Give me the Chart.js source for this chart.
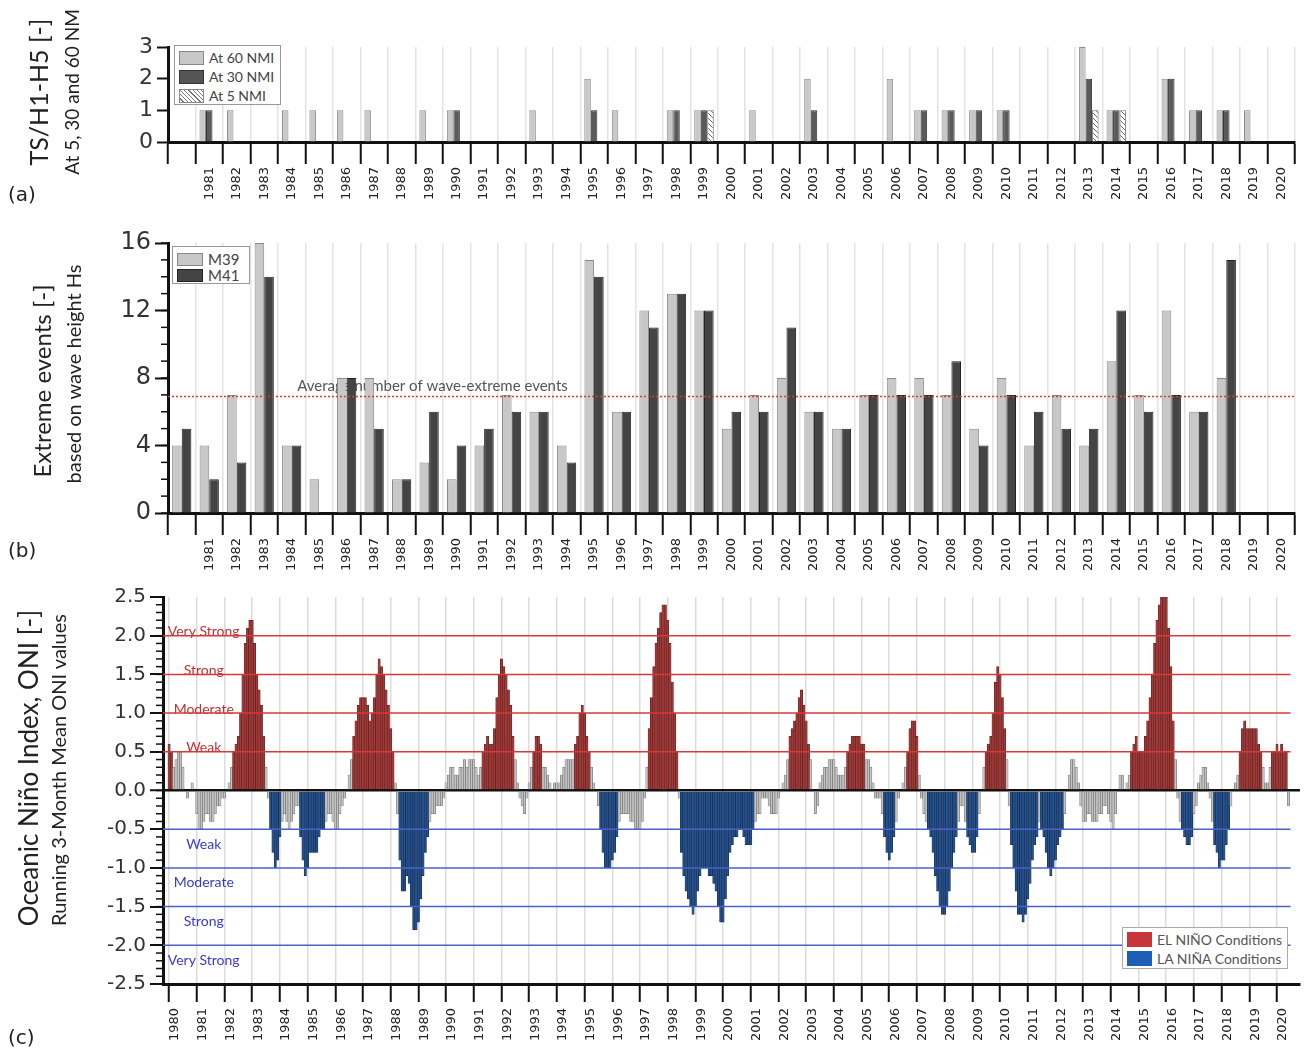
<!DOCTYPE html>
<html>
<head>
<meta charset="utf-8">
<script src="https://cdn.jsdelivr.net/npm/chart.js@4.4.1/dist/chart.umd.min.js"></script>
<style>
  body { margin: 0; background: #fff; width: 1307px; height: 1054px; position: relative; overflow: hidden; font-family: Lato, "Open Sans", sans-serif; color: #222; }
  canvas { position: absolute; left: 0; }
  .rot { position: absolute; white-space: nowrap; transform: translate(-50%, -50%) rotate(-90deg); line-height: 1; }
  .plabel { position: absolute; left: 8px; font-family: "DejaVu Sans", sans-serif; font-size: 20px; color: #222; }
  .legend { position: absolute; background: #fff; border: 1.5px solid #999; box-sizing: border-box; }
  .legend .row { position: absolute; left: 4px; display: flex; align-items: center; white-space: nowrap; color: #444; }
  .legend .sw { display: inline-block; box-sizing: border-box; margin-right: 5px; }
</style>
</head>
<body>

<canvas id="chartA" width="1307" height="212" style="top:0px"></canvas>
<canvas id="chartB" width="1307" height="360" style="top:212px"></canvas>
<canvas id="chartC" width="1307" height="482" style="top:572px"></canvas>

<div class="rot" style="left:38px; top:92px; font-size:25px;">TS/H1-H5 [-]</div>
<div class="rot" style="left:71px; top:92px; font-size:19px;">At 5, 30 and 60 NM</div>
<div class="plabel" style="top:182px;">(a)</div>

<div class="rot" style="left:42px; top:381px; font-size:24px;">Extreme events [-]</div>
<div class="rot" style="left:73px; top:374px; font-size:20px;">based on wave height Hs</div>
<div class="plabel" style="top:538px;">(b)</div>

<div class="rot" style="left:28px; top:768px; font-size:26px;">Oceanic Niño Index, ONI [-]</div>
<div class="rot" style="left:58px; top:770px; font-size:20px;">Running 3-Month Mean ONI values</div>
<div class="plabel" style="top:1025px;">(c)</div>

<div class="legend" style="left:174px; top:45px; width:107px; height:60px;">
  <div class="row" style="top:3px; font-size:14px;"><span class="sw" style="width:25px;height:14px;background:#c8c8c8;border:1px solid #888;"></span>At 60 NMI</div>
  <div class="row" style="top:22px; font-size:14px;"><span class="sw" style="width:25px;height:14px;background:#555;border:1px solid #333;"></span>At 30 NMI</div>
  <div class="row" style="top:41px; font-size:14px;"><span class="sw" style="width:25px;height:14px;border:1px solid #888;background:repeating-linear-gradient(45deg,#fff 0 2px,#777 2px 3px);"></span>At 5 NMI</div>
</div>

<div class="legend" style="left:172px; top:246px; width:78px; height:38px;">
  <div class="row" style="top:3px; font-size:15px;"><span class="sw" style="width:26px;height:13px;background:#c8c8c8;border:1px solid #888;"></span>M39</div>
  <div class="row" style="top:19px; font-size:15px;"><span class="sw" style="width:26px;height:13px;background:#444;border:1px solid #222;"></span>M41</div>
</div>

<div class="legend" style="left:1122px; top:927px; width:166px; height:42px; border:1px solid #aaa;">
  <div class="row" style="top:3px; font-size:14px; color:#555;"><span class="sw" style="width:25px;height:15px;background:#c8363a;"></span>EL NIÑO Conditions</div>
  <div class="row" style="top:22px; font-size:14px; color:#555;"><span class="sw" style="width:25px;height:15px;background:#1d5fb5;"></span>LA NIÑA Conditions</div>
</div>

<script>
// ---- data ----
const years = ["1980","1981","1982","1983","1984","1985","1986","1987","1988","1989",
               "1990","1991","1992","1993","1994","1995","1996","1997","1998","1999",
               "2000","2001","2002","2003","2004","2005","2006","2007","2008","2009",
               "2010","2011","2012","2013","2014","2015","2016","2017","2018","2019","2020"];

// (a) storms per year
const at60nmi = [0,1,1,0,1,1,1,1,0,1, 1,0,0,1,0,2,1,0,1,1, 0,1,0,2,0,0,2,1,1,1, 1,0,0,3,1,0,2,1,1,1, 0];
const at30nmi = [0,1,0,0,0,0,0,0,0,0, 1,0,0,0,0,1,0,0,1,1, 0,0,0,1,0,0,0,1,1,1, 1,0,0,2,1,0,2,1,1,0, 0];
const at5nmi  = [0,0,0,0,0,0,0,0,0,0, 0,0,0,0,0,0,0,0,0,1, 0,0,0,0,0,0,0,0,0,0, 0,0,0,1,1,0,0,0,0,0, 0];

// (b) extreme wave events per year
const m39 = [4,4,7,16,4,2,8,8,2,3, 2,4,7,6,4,15,6,12,13,12, 5,7,8,6,5,7,8,8,7,5, 8,4,7,4,9,7,12,6,8,0, 0];
const m41 = [5,2,3,14,4,0,8,5,2,6, 4,5,6,6,3,14,6,11,13,12, 6,6,11,6,5,7,7,7,9,4, 7,6,5,5,12,6,7,6,15,0, 0];
const averageEvents = 6.9;

// (c) ONI, running 3-month means (DJF ... NDJ), one row per year
const oni1980s = [
   0.6, 0.5, 0.3, 0.4, 0.5, 0.5, 0.3, 0.0,-0.1, 0.0, 0.1, 0.0,
  -0.3,-0.5,-0.5,-0.4,-0.3,-0.3,-0.4,-0.4,-0.3,-0.2,-0.2,-0.1,
  -0.1, 0.0, 0.1, 0.3, 0.5, 0.6, 0.7, 1.0, 1.5, 1.9, 2.1, 2.2,
   2.2, 1.9, 1.5, 1.3, 1.1, 0.7, 0.3,-0.1,-0.5,-0.8,-1.0,-0.9,
  -0.6,-0.4,-0.3,-0.4,-0.5,-0.4,-0.3,-0.2,-0.2,-0.6,-0.9,-1.1,
  -1.0,-0.8,-0.8,-0.8,-0.8,-0.6,-0.5,-0.5,-0.4,-0.3,-0.3,-0.4,
  -0.5,-0.5,-0.3,-0.2,-0.1, 0.0, 0.2, 0.4, 0.7, 0.9, 1.1, 1.2,
   1.2, 1.2, 1.1, 0.9, 1.0, 1.2, 1.5, 1.7, 1.6, 1.5, 1.3, 1.1,
   0.8, 0.5, 0.1,-0.3,-0.9,-1.3,-1.3,-1.1,-1.2,-1.5,-1.8,-1.8,
  -1.7,-1.4,-1.1,-0.8,-0.6,-0.4,-0.3,-0.3,-0.2,-0.2,-0.2,-0.1];
const oni1990s = [
   0.1, 0.2, 0.3, 0.3, 0.2, 0.2, 0.3, 0.3, 0.4, 0.3, 0.4, 0.4,
   0.4, 0.3, 0.2, 0.3, 0.5, 0.6, 0.7, 0.6, 0.6, 0.8, 1.2, 1.5,
   1.7, 1.6, 1.5, 1.3, 1.1, 0.7, 0.4, 0.1,-0.1,-0.2,-0.3,-0.1,
   0.1, 0.3, 0.5, 0.7, 0.7, 0.6, 0.3, 0.3, 0.2, 0.1, 0.0, 0.1,
   0.1, 0.1, 0.2, 0.3, 0.4, 0.4, 0.4, 0.4, 0.6, 0.7, 1.0, 1.1,
   1.0, 0.7, 0.5, 0.3, 0.1, 0.0,-0.2,-0.5,-0.8,-1.0,-1.0,-1.0,
  -0.9,-0.8,-0.6,-0.4,-0.3,-0.3,-0.3,-0.3,-0.4,-0.4,-0.5,-0.5,
  -0.5,-0.4,-0.1, 0.3, 0.8, 1.2, 1.6, 1.9, 2.1, 2.3, 2.4, 2.4,
   2.2, 1.9, 1.4, 1.0, 0.5,-0.1,-0.8,-1.1,-1.3,-1.4,-1.5,-1.6,
  -1.5,-1.3,-1.1,-1.0,-1.0,-1.0,-1.1,-1.1,-1.2,-1.3,-1.5,-1.7];
const oni2000s = [
  -1.7,-1.4,-1.1,-0.8,-0.7,-0.6,-0.6,-0.5,-0.5,-0.6,-0.7,-0.7,
  -0.7,-0.5,-0.4,-0.3,-0.3,-0.1,-0.1,-0.1,-0.2,-0.3,-0.3,-0.3,
  -0.1, 0.0, 0.1, 0.2, 0.4, 0.7, 0.8, 0.9, 1.0, 1.2, 1.3, 1.1,
   0.9, 0.6, 0.4, 0.0,-0.3,-0.2, 0.1, 0.2, 0.3, 0.3, 0.4, 0.4,
   0.4, 0.3, 0.2, 0.2, 0.2, 0.3, 0.5, 0.6, 0.7, 0.7, 0.7, 0.7,
   0.6, 0.6, 0.4, 0.4, 0.3, 0.1,-0.1,-0.1,-0.1,-0.3,-0.6,-0.8,
  -0.9,-0.8,-0.6,-0.4,-0.1, 0.0, 0.1, 0.3, 0.5, 0.8, 0.9, 0.9,
   0.7, 0.2,-0.1,-0.3,-0.4,-0.5,-0.6,-0.8,-1.1,-1.3,-1.5,-1.6,
  -1.6,-1.5,-1.3,-1.0,-0.8,-0.6,-0.4,-0.2,-0.2,-0.4,-0.6,-0.7,
  -0.8,-0.8,-0.6,-0.3, 0.0, 0.3, 0.5, 0.6, 0.7, 1.0, 1.4, 1.6];
const oni2010s = [
   1.5, 1.2, 0.8, 0.4,-0.2,-0.7,-1.0,-1.3,-1.6,-1.6,-1.7,-1.6,
  -1.4,-1.2,-0.9,-0.7,-0.6,-0.4,-0.5,-0.6,-0.8,-1.0,-1.1,-1.0,
  -0.9,-0.7,-0.6,-0.5,-0.3, 0.0, 0.2, 0.4, 0.4, 0.3, 0.1,-0.2,
  -0.4,-0.4,-0.3,-0.3,-0.4,-0.4,-0.4,-0.3,-0.3,-0.2,-0.2,-0.3,
  -0.4,-0.5,-0.3, 0.0, 0.2, 0.2, 0.0, 0.1, 0.2, 0.5, 0.6, 0.7,
   0.5, 0.5, 0.5, 0.7, 0.9, 1.2, 1.5, 1.9, 2.2, 2.4, 2.6, 2.6,
   2.5, 2.1, 1.6, 0.9, 0.4,-0.1,-0.4,-0.5,-0.6,-0.7,-0.7,-0.6,
  -0.3,-0.2, 0.1, 0.2, 0.3, 0.3, 0.1,-0.1,-0.4,-0.7,-0.8,-1.0,
  -0.9,-0.9,-0.7,-0.5,-0.2, 0.0, 0.1, 0.2, 0.5, 0.8, 0.9, 0.8,
   0.8, 0.8, 0.8, 0.8, 0.6, 0.5, 0.3, 0.1, 0.1, 0.3, 0.5, 0.5];
const oni2020 = [0.6, 0.5, 0.6, 0.5, 0.5, -0.2];

const oniStartYear = 1980;
const elNinoLevels = [0.5, 1.0, 1.5, 2.0];
const laNinaLevels = [-0.5, -1.0, -1.5, -2.0];
const strengthNames = ["Weak", "Moderate", "Strong", "Very Strong"];

// ---- helpers ----
const TICK_FONT = { family: "DejaVu Sans", size: 20 };
const YEAR_FONT = { family: "DejaVu Sans", size: 13 };

const minorTicks = {
    id: "minorTicks",
    afterDraw(chart, args, opts) {
        if (!opts.step) return;
        const y = chart.scales.y;
        const ctx = chart.ctx;
        const x0 = chart.chartArea.left;
        ctx.save();
        ctx.strokeStyle = "#111";
        ctx.lineWidth = 1.5;
        const n = Math.round((y.max - y.min) / opts.step);
        for (let i = 0; i <= n; i++) {
            const p = y.getPixelForValue(y.min + i * opts.step);
            ctx.beginPath();
            ctx.moveTo(x0 - opts.len, p);
            ctx.lineTo(x0, p);
            ctx.stroke();
        }
        ctx.restore();
    }
};

function fixArea(yWidth, xHeight) {
    return {
        y: s => { s.width = yWidth; },
        x: s => { s.height = xHeight; }
    };
}

function hatchPattern() {
    const c = document.createElement("canvas");
    c.width = 5; c.height = 5;
    const g = c.getContext("2d");
    g.fillStyle = "#fff";
    g.fillRect(0, 0, 5, 5);
    g.strokeStyle = "#666";
    g.lineWidth = 1;
    g.beginPath();
    g.moveTo(-1, -1); g.lineTo(6, 6);
    g.moveTo(-1, 4); g.lineTo(1, 6);
    g.moveTo(4, -1); g.lineTo(6, 1);
    g.stroke();
    return g.createPattern(c, "repeat");
}

function yearAxis(tickLen) {
    return {
        offset: true,
        grid: { offset: true, color: "#e3e3e3", lineWidth: 1.5, tickColor: "#111", tickWidth: 2, tickLength: tickLen },
        border: { display: true, color: "#111", width: 3 },
        ticks: {
            autoSkip: false, minRotation: 90, maxRotation: 90, padding: 3,
            color: "#222", font: YEAR_FONT,
            callback: (v, i) => (i === 0 ? "" : years[i])
        }
    };
}

// ---- (a) ----
const fa = fixArea(168, 212 - 142);
new Chart(document.getElementById("chartA"), {
    type: "bar",
    data: {
        labels: years,
        datasets: [
            { label: "At 60 NMI", data: at60nmi, backgroundColor: "#c8c8c8", borderColor: "#8a8a8a", borderWidth: 1 },
            { label: "At 30 NMI", data: at30nmi, backgroundColor: "#5a5a5a", borderColor: "#333", borderWidth: 1 },
            { label: "At 5 NMI", data: at5nmi, backgroundColor: hatchPattern(), borderColor: "#777", borderWidth: 1 }
        ]
    },
    options: {
        responsive: false, animation: false,
        layout: { padding: { top: 47, right: 12, left: 0, bottom: 0 } },
        datasets: { bar: { categoryPercentage: 0.71, barPercentage: 1 } },
        plugins: { legend: { display: false }, tooltip: { enabled: false } },
        scales: {
            x: Object.assign(yearAxis(22), { afterFit: fa.x }),
            y: {
                min: 0, max: 3, afterFit: fa.y,
                grid: { drawOnChartArea: false, tickColor: "#111", tickWidth: 2, tickLength: 11 },
                border: { display: true, color: "#111", width: 3 },
                ticks: { stepSize: 1, padding: 4, color: "#333", font: { family: "DejaVu Sans", size: 22 } }
            }
        }
    }
});

// ---- (b) ----
const fb = fixArea(168, 360 - 301);
const averageLine = {
    id: "averageLine",
    beforeDatasetsDraw(chart) {
        const ctx = chart.ctx;
        const y = chart.scales.y.getPixelForValue(averageEvents);
        ctx.save();
        ctx.font = "15px Lato";
        ctx.fillStyle = "#555";
        ctx.textBaseline = "bottom";
        ctx.fillText("Average number of wave-extreme events", chart.scales.x.getPixelForValue(4.2), y - 3);
        ctx.restore();
    },
    afterDatasetsDraw(chart) {
        const ctx = chart.ctx;
        const a = chart.chartArea;
        const y = chart.scales.y.getPixelForValue(averageEvents);
        ctx.save();
        ctx.strokeStyle = "#d83a3a";
        ctx.lineWidth = 1.5;
        ctx.setLineDash([2, 2]);
        ctx.beginPath();
        ctx.moveTo(a.left, y);
        ctx.lineTo(a.right, y);
        ctx.stroke();
        ctx.restore();
    }
};
new Chart(document.getElementById("chartB"), {
    type: "bar",
    data: {
        labels: years,
        datasets: [
            { label: "M39", data: m39, backgroundColor: "#c8c8c8", borderColor: "#8a8a8a", borderWidth: 1 },
            { label: "M41", data: m41, backgroundColor: "#444", borderColor: "#222", borderWidth: 1 }
        ]
    },
    options: {
        responsive: false, animation: false,
        layout: { padding: { top: 31, right: 12, left: 0, bottom: 0 } },
        datasets: { bar: { categoryPercentage: 0.7, barPercentage: 1 } },
        plugins: { legend: { display: false }, tooltip: { enabled: false }, minorTicks: { step: 1, len: 7 } },
        scales: {
            x: Object.assign(yearAxis(22), { afterFit: fb.x }),
            y: {
                min: 0, max: 16, afterFit: fb.y,
                grid: { drawOnChartArea: false, tickColor: "#111", tickWidth: 2, tickLength: 13 },
                border: { display: true, color: "#111", width: 3 },
                ticks: { stepSize: 4, padding: 4, color: "#333", font: { family: "DejaVu Sans", size: 24 } }
            }
        }
    },
    plugins: [averageLine, minorTicks]
});

// ---- (c) ----
const oniValues = [].concat(oni1980s, oni1990s, oni2000s, oni2010s, oni2020);

// El Niño / La Niña episodes: runs of >= 4 seasons beyond +-0.5 (runs cut by the record ends kept)
function episodeKinds(vals) {
    const kind = vals.map(v => (v >= 0.5 ? 1 : v <= -0.5 ? -1 : 0));
    const out = kind.slice();
    let i = 0;
    while (i < kind.length) {
        let j = i;
        while (j < kind.length && kind[j] === kind[i]) j++;
        if (kind[i] !== 0 && j - i < 4 && i > 0 && j < kind.length) {
            for (let k = i; k < j; k++) out[k] = 0;
        }
        i = j;
    }
    return out;
}
const kinds = episodeKinds(oniValues);
const fillFor = { "1": "#a03a38", "-1": "#26518c", "0": "#c3c3c3" };
const edgeFor = { "1": "#5e1c1c", "-1": "#10294d", "0": "#6e6e6e" };

const oniPoints = oniValues.map((v, i) => ({ x: oniStartYear + i / 12, y: v }));
const oniEnd = oniStartYear + (oniValues.length - 1) / 12;

const strengthLines = {
    id: "strengthLines",
    afterDatasetsDraw(chart) {
        const ctx = chart.ctx;
        const xs = chart.scales.x, ys = chart.scales.y;
        const x0 = chart.chartArea.left;
        const x1 = xs.getPixelForValue(oniEnd) + 2;
        const xc = xs.getPixelForValue(1981.25);
        ctx.save();
        ctx.font = "14px Lato";
        ctx.textAlign = "center";
        elNinoLevels.forEach((lv, i) => {
            const p = ys.getPixelForValue(lv);
            ctx.fillStyle = "#c43232";
            ctx.textBaseline = "bottom";
            ctx.fillText(strengthNames[i], xc, p + 3);
            ctx.strokeStyle = "#d43a3a";
            ctx.lineWidth = 1.5;
            ctx.beginPath(); ctx.moveTo(x0, p); ctx.lineTo(x1, p); ctx.stroke();
        });
        laNinaLevels.forEach((lv, i) => {
            const p = ys.getPixelForValue(lv);
            ctx.fillStyle = "#3a3ad0";
            ctx.textBaseline = "top";
            ctx.fillText(strengthNames[i], xc, p + 8);
            ctx.strokeStyle = "#4a62c8";
            ctx.lineWidth = 1.5;
            ctx.beginPath(); ctx.moveTo(x0, p); ctx.lineTo(x1, p); ctx.stroke();
        });
        ctx.restore();
    }
};

const fc = fixArea(163, 482 - 412);
new Chart(document.getElementById("chartC"), {
    type: "bar",
    data: {
        datasets: [{
            label: "ONI",
            data: oniPoints,
            backgroundColor: kinds.map(k => fillFor[k]),
            borderColor: kinds.map(k => edgeFor[k]),
            borderWidth: 0.6,
            barPercentage: 1,
            categoryPercentage: 1
        }]
    },
    options: {
        responsive: false, animation: false,
        layout: { padding: { top: 25, right: 7, left: 0, bottom: 0 } },
        plugins: { legend: { display: false }, tooltip: { enabled: false }, minorTicks: { step: 0.1, len: 7 } },
        scales: {
            x: {
                type: "linear", min: 1979.78, max: 2020.83, offset: false, afterFit: fc.x,
                grid: { offset: false, color: "#dcdcdc", lineWidth: 1.5, tickColor: "#111", tickWidth: 2, tickLength: 18 },
                border: { display: true, color: "#111", width: 3 },
                ticks: {
                    stepSize: 1, includeBounds: false, autoSkip: false,
                    minRotation: 90, maxRotation: 90, padding: 6, labelOffset: 6,
                    color: "#222", font: YEAR_FONT,
                    callback: v => String(v)
                }
            },
            y: {
                min: -2.5, max: 2.5, afterFit: fc.y,
                grid: {
                    color: c => (c.tick && c.tick.value === 0 ? "#111" : "rgba(0,0,0,0)"),
                    lineWidth: c => (c.tick && c.tick.value === 0 ? 2.5 : 0),
                    tickColor: "#111", tickWidth: 2, tickLength: 13
                },
                border: { display: true, color: "#111", width: 3 },
                ticks: { stepSize: 0.5, padding: 4, color: "#333", font: TICK_FONT, callback: v => v.toFixed(1) }
            }
        }
    },
    plugins: [strengthLines, minorTicks]
});
</script>
</body>
</html>
